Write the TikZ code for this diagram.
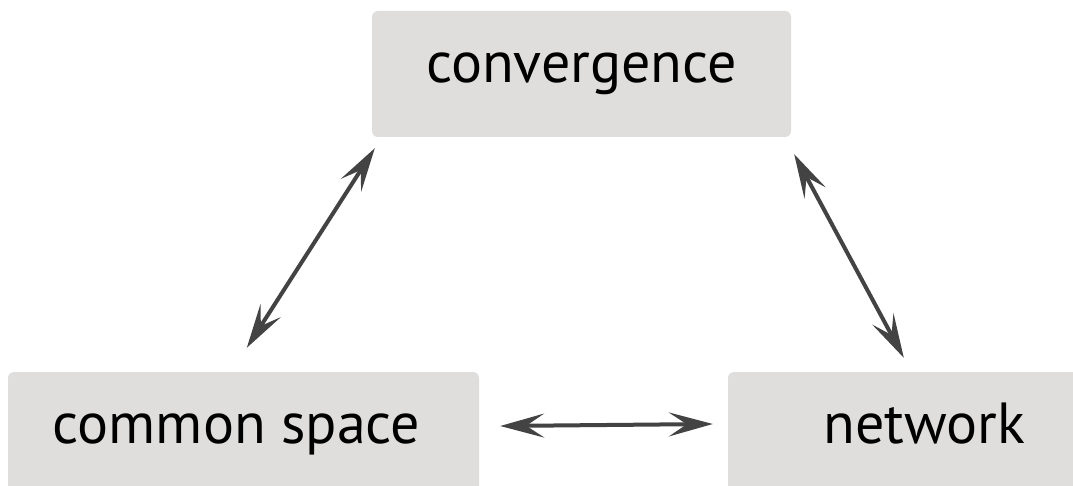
\documentclass[tikz,border=0pt]{standalone}
\usepackage{fontspec}
\setmainfont{PT Sans}
\usetikzlibrary{arrows.meta,calc}
\definecolor{boxfill}{HTML}{DFDEDD}
\definecolor{arrowcol}{HTML}{434343}
\tikzset{
  box/.style={fill=boxfill, rounded corners=6pt, inner sep=0pt, font=\fontsize{58}{58}\selectfont, text height=40pt},
  link/.style={draw=arrowcol, line width=4pt, {Stealth[length=44pt,width=24pt,inset=18pt]}-{Stealth[length=44pt,width=24pt,inset=18pt]}}
}
\begin{document}
\begin{tikzpicture}[x=1pt,y=-1pt]
\useasboundingbox (0,0) rectangle (1073,486);
\clip (0,0) rectangle (1073,486);
\fill[white] (0,0) rectangle (1073,486);
\node[box, minimum width=419pt, minimum height=126pt, text depth=22pt] (conv) at (581.5,74) {convergence};
\node[box, minimum width=471pt, minimum height=126pt, text depth=24pt] (cs) at (243.5,435) {\hspace*{-14pt}common space};
\node[box, minimum width=393pt, minimum height=126pt, text depth=24pt] (net) at (924.5,435) {network};
\draw[link] ($(cs.north west)+(239,-24)$) -- ($(conv.south west)+(3,11)$);
\draw[link] ($(conv.south east)+(3,17)$) -- ($(net.north west)+(176,-14)$);
\draw[link] ($(cs.east)+(21,-9)$) -- ($(net.west)+(-15,-11)$);
\end{tikzpicture}
\end{document}
